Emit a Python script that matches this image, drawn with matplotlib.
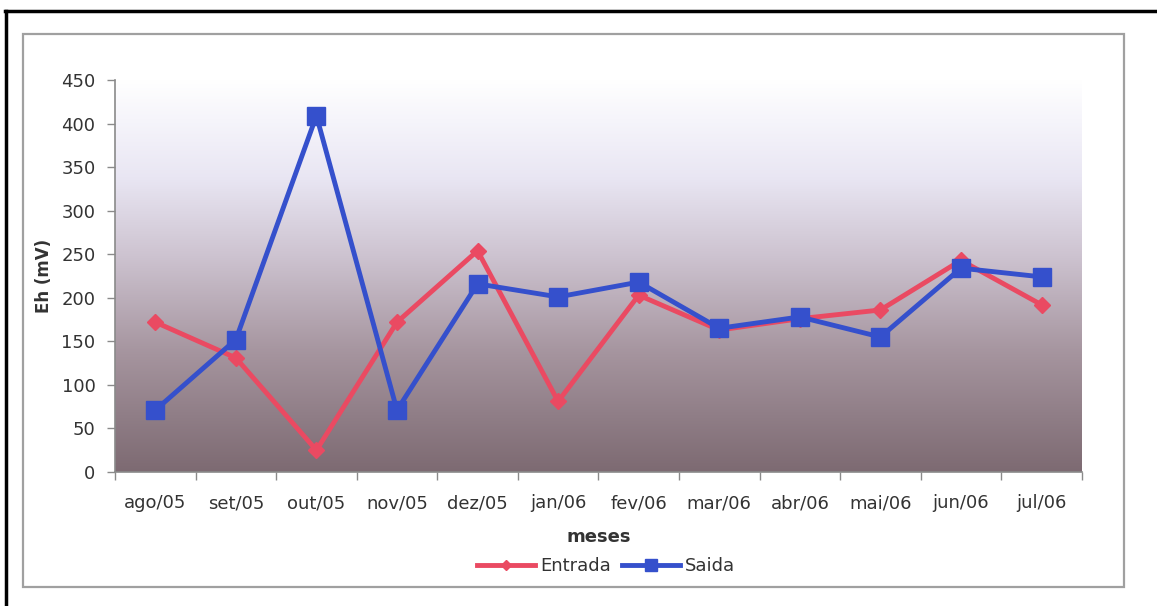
import numpy as np
import matplotlib.pyplot as plt
from matplotlib.colors import LinearSegmentedColormap
from matplotlib.patches import Rectangle
from matplotlib.lines import Line2D

plt.rcParams['font.family'] = ['DejaVu Sans']

# monthly Eh readings, Aug/2005 - Jul/2006
meses = ['ago/05', 'set/05', 'out/05', 'nov/05', 'dez/05', 'jan/06',
         'fev/06', 'mar/06', 'abr/06', 'mai/06', 'jun/06', 'jul/06']
entrada = [172, 131, 25, 172, 254, 81, 203, 163, 176, 186, 243, 192]
saida = [71, 152, 409, 71, 216, 201, 218, 165, 178, 155, 234, 224]

fig = plt.figure(figsize=(11.57, 6.06), dpi=100)
ax = fig.add_axes([0.0994, 0.2211, 0.8356, 0.6469])

# outer black border (top and left only)
fig.add_artist(Line2D([5 / 1157, 1.0], [1 - 11 / 606, 1 - 11 / 606],
                      transform=fig.transFigure, color='black', lw=2.5))
fig.add_artist(Line2D([6 / 1157, 6 / 1157], [0.0, 1 - 11 / 606],
                      transform=fig.transFigure, color='black', lw=2.5))

# grey chart frame
fig.add_artist(Rectangle((23 / 1157, 1 - 587 / 606), 1101 / 1157, 553 / 606,
                         transform=fig.transFigure, fill=False,
                         edgecolor='#a0a0a0', lw=1.6))

# plot area background: white at top fading to mauve-brown at bottom
cmap = LinearSegmentedColormap.from_list(
    'fundo', [(0.0, '#7d6a72'), (0.3, '#a5949e'), (0.55, '#cdc3d0'),
              (0.75, '#e9e6f3'), (0.9, '#f6f5fb'), (1.0, '#ffffff')])
grad = np.linspace(0, 1, 256).reshape(-1, 1)
ax.imshow(grad, cmap=cmap, origin='lower', aspect='auto',
          extent=[0, 1, 0, 1], transform=ax.transAxes, zorder=0)

x = np.arange(len(meses))
ax.plot(x, entrada, color='#ea4a62', lw=3.5, marker='D', ms=8,
        markeredgecolor='#ea4a62', label='Entrada', zorder=3)
ax.plot(x, saida, color='#3550cc', lw=3.5, marker='s', ms=13,
        markeredgecolor='#3550cc', label='Saida', zorder=4)

ax.set_xlim(-0.5, len(meses) - 0.5)
ax.set_ylim(0, 450)
ax.set_yticks(np.arange(0, 451, 50))
ax.set_xticks(x)
ax.set_xticklabels(meses)
ax.set_xticks(np.arange(-0.5, len(meses), 1), minor=True)

for s in ['top', 'right']:
    ax.spines[s].set_visible(False)
for s in ['left', 'bottom']:
    ax.spines[s].set_color('#8a8a8a')
    ax.spines[s].set_linewidth(1.2)

ax.tick_params(axis='y', length=6, width=1, color='#8a8a8a', pad=8,
               labelsize=13, labelcolor='#333333')
ax.tick_params(axis='x', which='major', length=0, pad=16,
               labelsize=13, labelcolor='#333333')
ax.tick_params(axis='x', which='minor', length=6, width=1, color='#8a8a8a')

ax.set_ylabel('Eh (mV)', fontsize=12, fontweight='bold', color='#333333',
              labelpad=6)
ax.set_xlabel('meses', fontsize=13, fontweight='bold', color='#333333',
              labelpad=11)

ax.legend(loc='center', bbox_to_anchor=(0.508, -0.24), ncol=2,
          frameon=False, fontsize=13, handlelength=3.2, handletextpad=0.3,
          columnspacing=0.6, labelcolor='#333333', markerscale=0.7)

fig.savefig('out.png', dpi=100)
